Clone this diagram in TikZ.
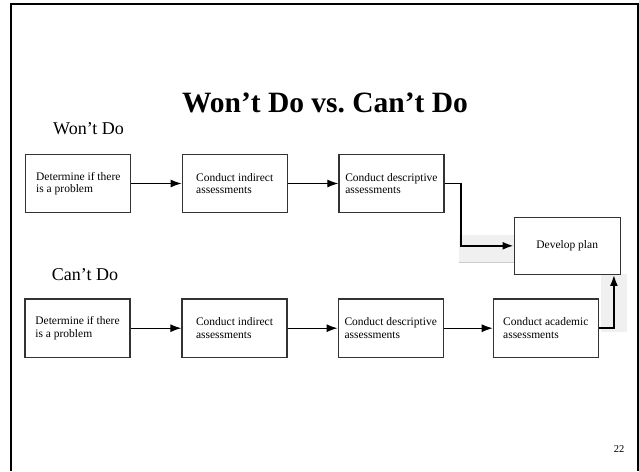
\documentclass[tikz,border=0pt]{standalone}
\usepackage{fontspec}
\setmainfont{Liberation Serif}
\usetikzlibrary{arrows.meta}

\begin{document}
\begin{tikzpicture}[x=1pt,y=-1pt,
  stepbox/.style={draw=black!80, line width=1.2, minimum width=105, minimum height=58.5, align=left, inner sep=0, font=\fontsize{11.5}{12.4}\selectfont},
  flow/.style={-{Latex[length=11pt,width=8pt]}, line width=1.1},
  bold flow/.style={flow, line width=1.9},
  shade/.style={fill=gray!12, draw=none}]
\useasboundingbox (0,0) rectangle (639,471);
\draw [line width=2] (11,471) -- (11,3.5) -- (637.8,3.5) -- (637.8,471);
\fill [shade] (459.3,235.3) rectangle (514,261.7);
\draw [gray!40] (459.3,261.7) -- (514,261.7);
\fill [shade] (601,274.3) rectangle (627.3,331.7);
\node (title) [anchor=base, font=\bfseries\fontsize{29.5}{32}\selectfont] at (325,112.7) {Won't Do vs.\ Can't Do};
\node (wont) [anchor=base west, inner sep=0, font=\fontsize{18}{20}\selectfont] at (53,134) {Won't Do};
\node (cant) [anchor=base west, inner sep=0, font=\fontsize{18}{20}\selectfont] at (51.7,280) {Can't Do};
\node (W1) [stepbox] at (78.3,183.5) {Determine if there\\is a problem};
\node (W2) [stepbox] at (234.7,183.5) {Conduct indirect\\assessments};
\node (W3) [stepbox] at (391.4,183.5) {Conduct descriptive\\assessments};
\node (Plan) [stepbox, minimum width=106, minimum height=57, align=center] at (567.2,245.8) {Develop plan};
\node (C1) [stepbox] at (77.5,328.2) {Determine if there\\is a problem};
\node (C2) [stepbox] at (234.5,328.2) {Conduct indirect\\assessments};
\node (C3) [stepbox] at (390.7,328.2) {Conduct descriptive\\assessments};
\node (C4) [stepbox] at (545.8,328.2) {Conduct academic\\assessments};
\node (page) [anchor=base, font=\fontsize{10.5}{12}\selectfont] at (619,452.7) {22};
\draw [flow] (W1) -- (W2);
\draw [flow] (W2) -- (W3);
\draw [bold flow] (W3.east) -- ++(16.2,0) |- (Plan.west);
\draw [flow] (C1) -- (C2);
\draw [flow] (C2) -- (C3);
\draw [flow] (C3) -- (C4);
\draw [bold flow] (C4.east) -- ++(15,0) coordinate (bend) -- (bend |- Plan.south);
\end{tikzpicture}
\end{document}
